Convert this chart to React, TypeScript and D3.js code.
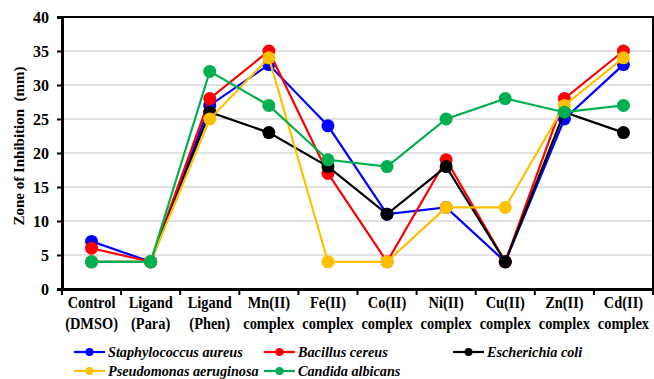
import React, { useEffect, useRef } from 'react';
import * as d3 from 'd3';

const categories = [
  ['Control', '(DMSO)'],
  ['Ligand', '(Para)'],
  ['Ligand', '(Phen)'],
  ['Mn(II)', 'complex'],
  ['Fe(II)', 'complex'],
  ['Co(II)', 'complex'],
  ['Ni(II)', 'complex'],
  ['Cu(II)', 'complex'],
  ['Zn(II)', 'complex'],
  ['Cd(II)', 'complex'],
];

const staphylococcus = [7, 4, 27, 33, 24, 11, 12, 4, 25, 33];
const bacillus = [6, 4, 28, 35, 17, 4, 19, 4, 28, 35];
const escherichia = [4, 4, 26, 23, 18, 11, 18, 4, 26, 23];
const pseudomonas = [4, 4, 25, 34, 4, 4, 12, 12, 27, 34];
const candida = [4, 4, 32, 27, 19, 18, 25, 28, 26, 27];

const yTicks = [0, 5, 10, 15, 20, 25, 30, 35, 40];

const series = [
  { name: 'Staphylococcus aureus', color: '#0000FF', values: staphylococcus },
  { name: 'Bacillus cereus', color: '#FF0000', values: bacillus },
  { name: 'Escherichia coli', color: '#000000', values: escherichia },
  { name: 'Pseudomonas aeruginosa', color: '#FFC000', values: pseudomonas },
  { name: 'Candida albicans', color: '#00B050', values: candida },
];

// legend slots: [column x, row y]
const legendSlots = [
  [74, 352],
  [264, 352],
  [453, 352],
  [74, 371],
  [264, 371],
];

const W = 654;
const H = 379;
const margin = { top: 17, right: 1, bottom: 90, left: 62 };
const FONT = "'Liberation Serif', 'DejaVu Serif', 'Noto Serif', serif";

const Chart = () => {
  const ref = useRef(null);

  useEffect(() => {
    const svg = d3.select(ref.current);
    svg.selectAll('*').remove();

    const innerW = W - margin.left - margin.right;
    const innerH = H - margin.top - margin.bottom;

    const x = d3.scaleBand().domain(categories.map((_, i) => String(i))).range([0, innerW]);
    const y = d3.scaleLinear().domain([0, 40]).range([innerH, 0]);

    const g = svg.append('g').attr('transform', `translate(${margin.left},${margin.top})`);

    // grid
    g.selectAll('.grid')
      .data(yTicks.filter(t => t > 0 && t < 40))
      .enter().append('line')
      .attr('x1', 0).attr('x2', innerW)
      .attr('y1', d => y(d)).attr('y2', d => y(d))
      .attr('stroke', '#d9d9d9').attr('stroke-width', 1.5);

    // frame
    g.append('rect')
      .attr('width', innerW).attr('height', innerH)
      .attr('fill', 'none').attr('stroke', '#000').attr('stroke-width', 2);

    // y axis
    const yAxis = g.append('g').call(d3.axisLeft(y).tickValues(yTicks).tickSize(5).tickPadding(8));
    yAxis.attr('font-family', null);
    yAxis.select('.domain').attr('stroke-width', 3);
    yAxis.selectAll('.tick line').attr('stroke-width', 2);
    yAxis.selectAll('text')
      .attr('font-weight', 'bold').attr('font-size', 16).attr('fill', '#000');

    // x axis
    const xAxis = g.append('g').attr('transform', `translate(0,${innerH})`)
      .call(d3.axisBottom(x).tickSize(0).tickFormat(() => ''));
    xAxis.select('.domain').attr('stroke-width', 3);
    g.append('g').selectAll('line')
      .data(d3.range(categories.length + 1))
      .enter().append('line')
      .attr('x1', i => i * x.step()).attr('x2', i => i * x.step())
      .attr('y1', innerH).attr('y2', innerH + 6)
      .attr('stroke', '#000').attr('stroke-width', 2);

    // x labels
    const labels = g.append('g').selectAll('text')
      .data(categories)
      .enter().append('text')
      .attr('transform', (_, i) => `translate(${(x(String(i)) || 0) + x.bandwidth() / 2},${innerH + 19}) scale(0.9,1)`)
      .attr('text-anchor', 'middle')
      .attr('font-weight', 'bold').attr('font-size', 16);
    labels.append('tspan').attr('x', 0).attr('dy', 0).text(d => d[0]);
    labels.append('tspan').attr('x', 0).attr('dy', 21).text(d => d[1]);

    // y label
    svg.append('text')
      .attr('transform', 'translate(24,146) rotate(-90)')
      .attr('text-anchor', 'middle')
      .style('white-space', 'pre')
      .attr('font-weight', 'bold').attr('font-size', 15)
      .text('Zone of Inhibition  (mm)');

    // lines
    const line = d3.line<number>()
      .x((_, i) => (x(String(i)) || 0) + x.bandwidth() / 2)
      .y(d => y(d));

    series.forEach(s => {
      const sg = g.append('g');
      sg.append('path')
        .datum(s.values)
        .attr('d', line)
        .attr('fill', 'none')
        .attr('stroke', s.color)
        .attr('stroke-width', 2.2);
      sg.selectAll('circle')
        .data(s.values)
        .enter().append('circle')
        .attr('cx', (_, i) => (x(String(i)) || 0) + x.bandwidth() / 2)
        .attr('cy', d => y(d))
        .attr('r', 6.5)
        .attr('fill', s.color);
    });

    // legend
    const lg = svg.append('g');
    series.forEach((s, i) => {
      const [lx, ly] = legendSlots[i];
      const e = lg.append('g').attr('transform', `translate(${lx},${ly})`);
      e.append('line').attr('x1', 0).attr('x2', 31).attr('y1', 0).attr('y2', 0)
        .attr('stroke', s.color).attr('stroke-width', 2.2);
      e.append('circle').attr('cx', 15.5).attr('cy', 0).attr('r', 4).attr('fill', s.color);
      e.append('text')
        .attr('transform', 'translate(34,5) scale(0.95,1)')
        .attr('font-style', 'italic').attr('font-weight', 'bold').attr('font-size', 15)
        .text(s.name);
    });
  }, []);

  return (
    <svg
      ref={ref}
      width={W}
      height={H}
      style={{ position: 'absolute', left: 0, top: 0, display: 'block', background: '#fff', fontFamily: FONT }}
    />
  );
};

export default function App() {
  return <Chart />;
}
